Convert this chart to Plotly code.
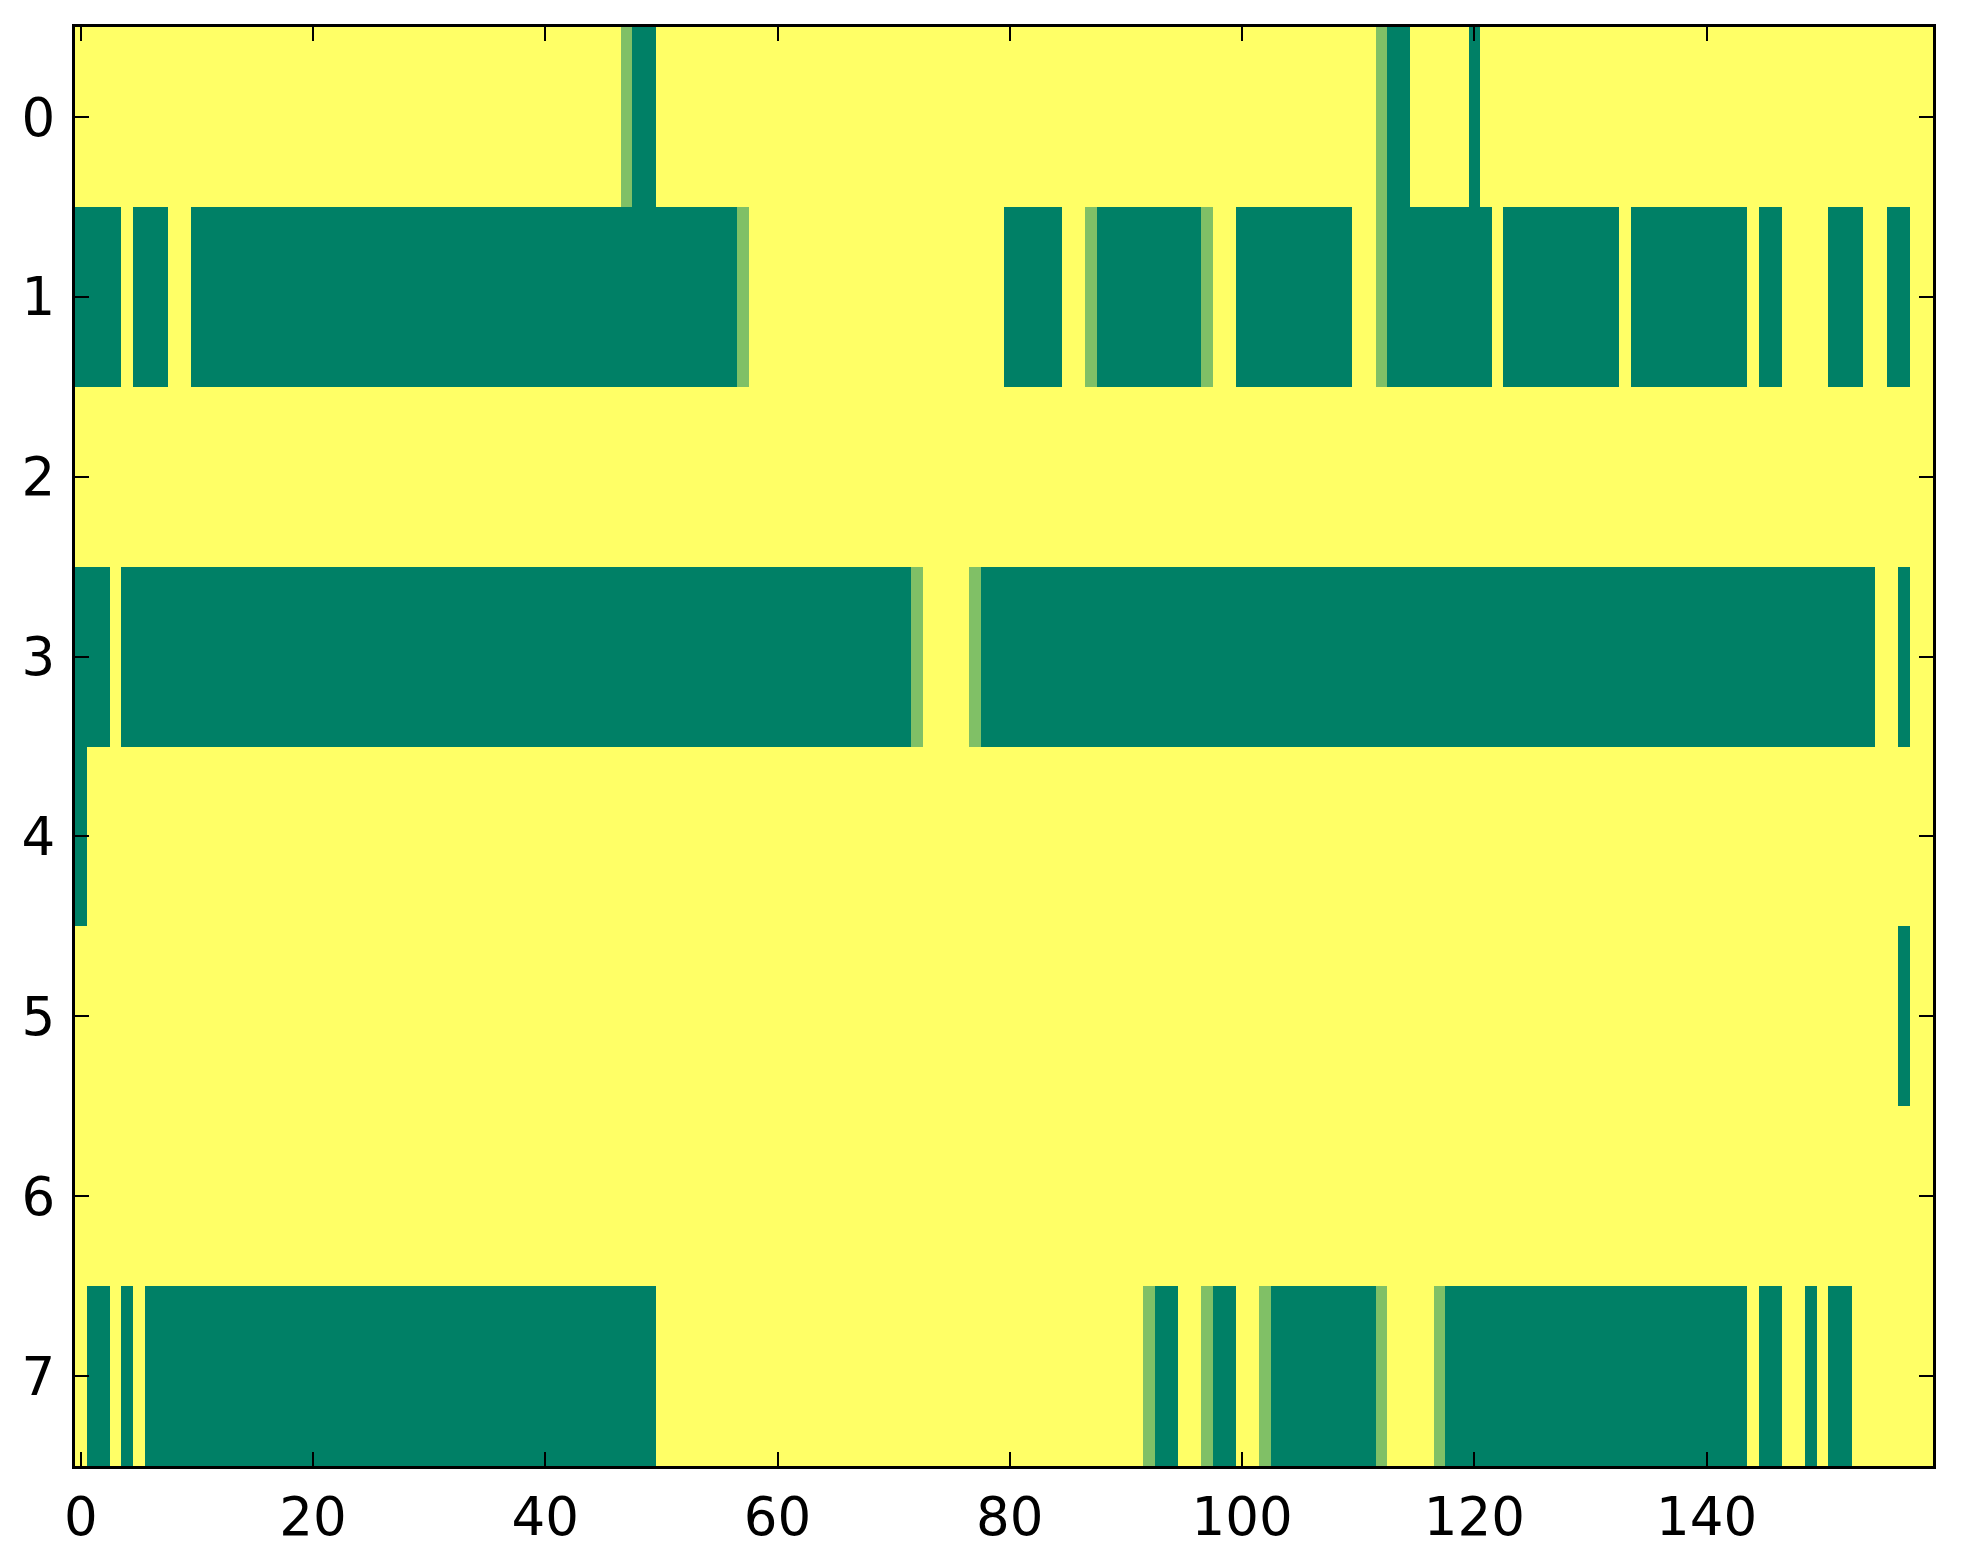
import numpy as np
import plotly.graph_objects as go

# Grid size: 8 rows, 160 columns
N_ROWS = 8
N_COLS = 160

# Per-row cell values: 1 everywhere except the listed runs.
# zero runs are inclusive (start, end) column pairs, half cells are single columns.
row0_zero = [(48, 49), (113, 114), (120, 120)]
row0_half = [47, 112]

row1_zero = [(0, 3), (5, 7), (10, 56), (80, 84), (88, 96), (100, 109),
             (113, 121), (123, 132), (134, 143), (145, 146), (151, 153), (156, 157)]
row1_half = [57, 87, 97, 112]

row2_zero = []
row2_half = []

row3_zero = [(0, 2), (4, 71), (78, 154), (157, 157)]
row3_half = [72, 77]

row4_zero = [(0, 0)]
row4_half = []

row5_zero = [(157, 157)]
row5_half = []

row6_zero = []
row6_half = []

row7_zero = [(1, 2), (4, 4), (6, 49), (93, 94), (98, 99), (103, 111),
             (118, 143), (145, 146), (149, 149), (151, 152)]
row7_half = [92, 97, 102, 112, 117]

ZERO_RUNS = [row0_zero, row1_zero, row2_zero, row3_zero,
             row4_zero, row5_zero, row6_zero, row7_zero]
HALF_CELLS = [row0_half, row1_half, row2_half, row3_half,
              row4_half, row5_half, row6_half, row7_half]

X_TICKS = [0, 20, 40, 60, 80, 100, 120, 140]
Y_TICKS = [0, 1, 2, 3, 4, 5, 6, 7]

z = np.ones((N_ROWS, N_COLS))
for r, runs in enumerate(ZERO_RUNS):
    for a, b in runs:
        z[r, a:b + 1] = 0.0
for r, cols in enumerate(HALF_CELLS):
    for c in cols:
        z[r, c] = 0.5

# matplotlib "summer" colormap
summer = [[0.0, "#008066"], [1.0, "#ffff66"]]

fig = go.Figure(go.Heatmap(
    z=z,
    x=np.arange(N_COLS),
    y=np.arange(N_ROWS),
    colorscale=summer,
    zmin=0, zmax=1,
    showscale=False,
    hoverinfo="skip",
))

axis_common = dict(
    showgrid=False, zeroline=False,
    showline=True, linecolor="black", linewidth=3.4,
    mirror="ticks",
    ticks="inside", ticklen=14, tickwidth=1.8, tickcolor="black",
    tickfont=dict(family="DejaVu Sans", size=53, color="black"),
    layer="above traces",
)

fig.update_xaxes(range=[-0.5, N_COLS - 0.5], tickvals=X_TICKS,
                 ticklabelstandoff=2, **axis_common)
fig.update_yaxes(range=[N_ROWS - 0.5, -0.5], tickvals=Y_TICKS,
                 ticklabelstandoff=6, **axis_common)

fig.update_layout(
    width=1963, height=1564,
    margin=dict(l=67, r=38, t=19, b=106, pad=0),
    paper_bgcolor="white", plot_bgcolor="white",
    font=dict(family="DejaVu Sans", color="black"),
)

fig.write_html("out.html")
